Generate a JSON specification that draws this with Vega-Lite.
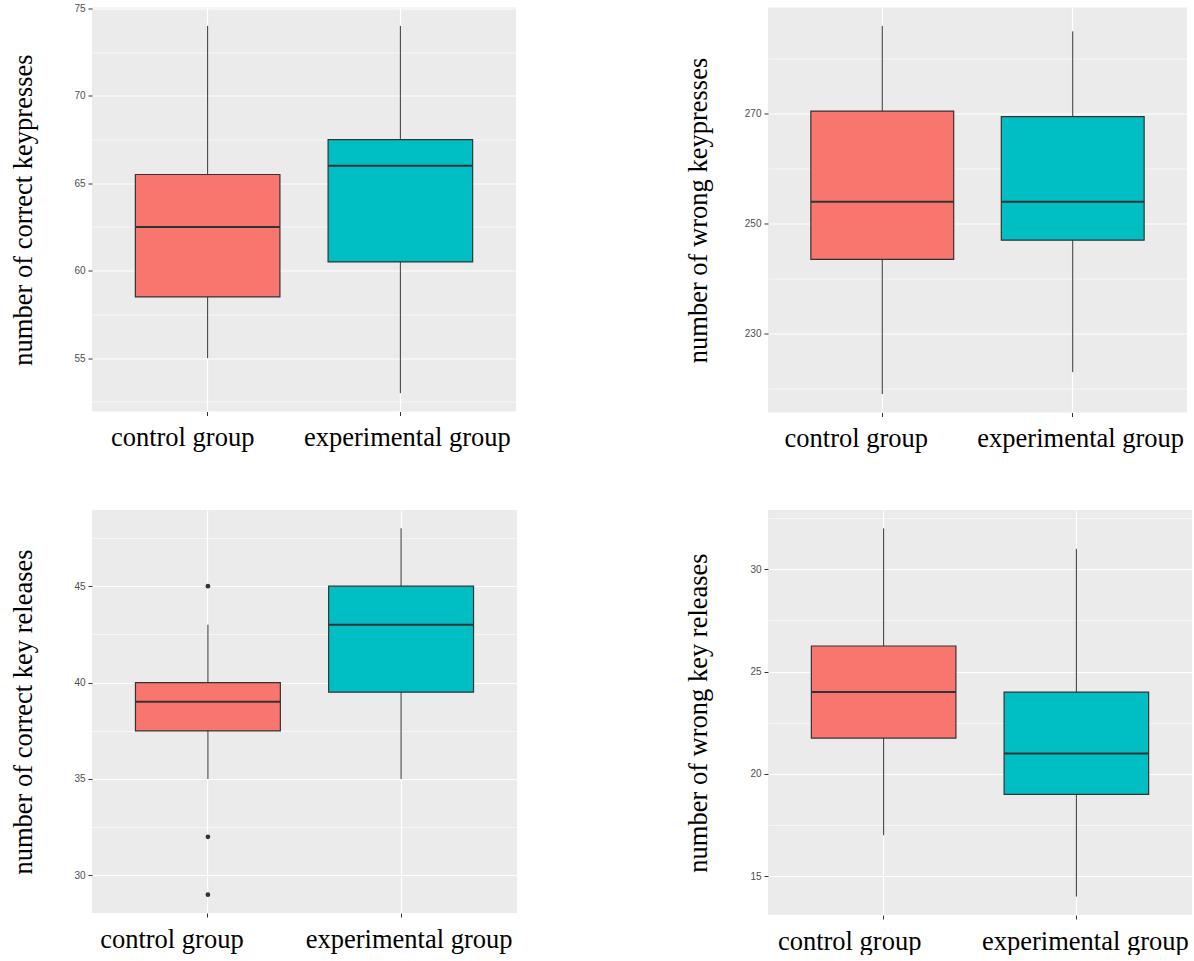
{
  "$schema": "https://vega.github.io/schema/vega-lite/v6.json",
  "padding": {"left": 10, "top": 2.5, "right": 0, "bottom": 0},
  "background": "white",
  "datasets": {
    "boxes": [
      {"panel": "p1", "group": "control group", "lower": 55, "q1": 58.5, "median": 62.5, "q3": 65.5, "upper": 74},
      {"panel": "p1", "group": "experimental group", "lower": 53, "q1": 60.5, "median": 66, "q3": 67.5, "upper": 74},
      {"panel": "p2", "group": "control group", "lower": 219, "q1": 243.5, "median": 254, "q3": 270.5, "upper": 286},
      {"panel": "p2", "group": "experimental group", "lower": 223, "q1": 247, "median": 254, "q3": 269.5, "upper": 285},
      {"panel": "p3", "group": "control group", "lower": 35, "q1": 37.5, "median": 39, "q3": 40, "upper": 43},
      {"panel": "p3", "group": "experimental group", "lower": 35, "q1": 39.5, "median": 43, "q3": 45, "upper": 48},
      {"panel": "p4", "group": "control group", "lower": 17, "q1": 21.75, "median": 24, "q3": 26.25, "upper": 32},
      {"panel": "p4", "group": "experimental group", "lower": 14, "q1": 19, "median": 21, "q3": 24, "upper": 31}
    ],
    "outliers": [
      {"panel": "p3", "group": "control group", "value": 45},
      {"panel": "p3", "group": "control group", "value": 32},
      {"panel": "p3", "group": "control group", "value": 29}
    ]
  },
  "config": {
    "view": {"fill": "#EBEBEB", "stroke": null},
    "axis": {
      "domain": false,
      "gridColor": "#FFFFFF",
      "tickColor": "#333333",
      "tickSize": 4,
      "tickWidth": 1
    }
  },
  "columns": 2,
  "align": "none",
  "spacing": {"row": 57.5, "column": 168},
  "concat": [
    {
      "width": 424,
      "height": 404,
      "encoding": {
        "x": {
          "field": "group", "type": "nominal",
          "scale": {"type": "band", "paddingInner": 0.25, "paddingOuter": 0.225},
          "axis": {
            "title": null, "labelAngle": 0, "labelFont": "Liberation Serif", "labelFontSize": 26.5,
            "labelColor": "#000000", "labelBaseline": "alphabetic", "labelPadding": 30, "labelLimit": 0,
            "bandPosition": 0.5, "grid": true, "gridWidth": 1.2,
            "labelOffset": {"condition": {"test": "datum.value == 'control group'", "value": -25}, "value": 7}
          }
        }
      },
      "layer": [
        {
          "data": {"name": "boxes"},
          "transform": [{"filter": "datum.panel == 'p1'"}],
          "mark": {"type": "rule", "color": "#333333", "strokeWidth": 1},
          "encoding": {
            "y": {
              "field": "lower", "type": "quantitative", "title": "number of correct keypresses",
              "scale": {"domain": [51.95, 75.05], "nice": false, "zero": false},
              "axis": {
                "values": [52.5, 55, 57.5, 60, 62.5, 65, 67.5, 70, 72.5, 75],
                "labelExpr": "datum.value % 5 == 0 ? datum.label : ''",
                "gridWidth": {"condition": {"test": "datum.value % 5 != 0", "value": 0.6}, "value": 1.2},
                "tickOpacity": {"condition": {"test": "datum.value % 5 != 0", "value": 0}, "value": 1},
                "labelFont": "Liberation Sans", "labelFontSize": 10, "labelColor": "#4D4D4D", "labelPadding": 3,
                "titleFont": "Liberation Serif", "titleFontSize": 26.5, "titleFontWeight": "normal",
                "titleColor": "#000000", "titleBaseline": "alphabetic",
                "minExtent": 30, "maxExtent": 30, "titlePadding": 31
              }
            },
            "y2": {"field": "upper"}
          }
        },
        {
          "data": {"name": "boxes"},
          "transform": [{"filter": "datum.panel == 'p1'"}],
          "mark": {"type": "bar", "stroke": "#333333", "strokeWidth": 1.2},
          "encoding": {
            "y": {"field": "q1", "type": "quantitative", "title": "number of correct keypresses"},
            "y2": {"field": "q3"},
            "fill": {"field": "group", "type": "nominal", "scale": {"domain": ["control group", "experimental group"], "range": ["#F8766D", "#00BFC4"]}, "legend": null}
          }
        },
        {
          "data": {"name": "boxes"},
          "transform": [{"filter": "datum.panel == 'p1'"}],
          "mark": {"type": "tick", "color": "#333333", "thickness": 2, "opacity": 1},
          "encoding": {
            "y": {"field": "median", "type": "quantitative", "title": "number of correct keypresses"}
          }
        }
      ]
    },
    {
      "width": 419,
      "height": 405,
      "encoding": {
        "x": {
          "field": "group", "type": "nominal",
          "scale": {"type": "band", "paddingInner": 0.25, "paddingOuter": 0.225},
          "axis": {
            "title": null, "labelAngle": 0, "labelFont": "Liberation Serif", "labelFontSize": 26.5,
            "labelColor": "#000000", "labelBaseline": "alphabetic", "labelPadding": 30, "labelLimit": 0,
            "bandPosition": 0.5, "grid": true, "gridWidth": 1.2,
            "labelOffset": {"condition": {"test": "datum.value == 'control group'", "value": -26}, "value": 8}
          }
        }
      },
      "layer": [
        {
          "data": {"name": "boxes"},
          "transform": [{"filter": "datum.panel == 'p2'"}],
          "mark": {"type": "rule", "color": "#333333", "strokeWidth": 1},
          "encoding": {
            "y": {
              "field": "lower", "type": "quantitative", "title": "number of wrong keypresses",
              "scale": {"domain": [215.65, 289.35], "nice": false, "zero": false},
              "axis": {
                "values": [220, 230, 240, 250, 260, 270, 280],
                "labelExpr": "datum.value % 20 == 10 ? datum.label : ''",
                "gridWidth": {"condition": {"test": "datum.value % 20 == 0", "value": 0.6}, "value": 1.2},
                "tickOpacity": {"condition": {"test": "datum.value % 20 == 0", "value": 0}, "value": 1},
                "labelFont": "Liberation Sans", "labelFontSize": 10, "labelColor": "#4D4D4D", "labelPadding": 3,
                "titleFont": "Liberation Serif", "titleFontSize": 26.5, "titleFontWeight": "normal",
                "titleColor": "#000000", "titleBaseline": "alphabetic",
                "minExtent": 30, "maxExtent": 30, "titlePadding": 32
              }
            },
            "y2": {"field": "upper"}
          }
        },
        {
          "data": {"name": "boxes"},
          "transform": [{"filter": "datum.panel == 'p2'"}],
          "mark": {"type": "bar", "stroke": "#333333", "strokeWidth": 1.2},
          "encoding": {
            "y": {"field": "q1", "type": "quantitative", "title": "number of wrong keypresses"},
            "y2": {"field": "q3"},
            "fill": {"field": "group", "type": "nominal", "scale": {"domain": ["control group", "experimental group"], "range": ["#F8766D", "#00BFC4"]}, "legend": null}
          }
        },
        {
          "data": {"name": "boxes"},
          "transform": [{"filter": "datum.panel == 'p2'"}],
          "mark": {"type": "tick", "color": "#333333", "thickness": 2, "opacity": 1},
          "encoding": {
            "y": {"field": "median", "type": "quantitative", "title": "number of wrong keypresses"}
          }
        }
      ]
    },
    {
      "width": 425,
      "height": 403,
      "encoding": {
        "x": {
          "field": "group", "type": "nominal",
          "scale": {"type": "band", "paddingInner": 0.25, "paddingOuter": 0.225},
          "axis": {
            "title": null, "labelAngle": 0, "labelFont": "Liberation Serif", "labelFontSize": 26.5,
            "labelColor": "#000000", "labelBaseline": "alphabetic", "labelPadding": 30, "labelLimit": 0,
            "bandPosition": 0.5, "grid": true, "gridWidth": 1.2,
            "labelOffset": {"condition": {"test": "datum.value == 'control group'", "value": -36}, "value": 8}
          }
        }
      },
      "layer": [
        {
          "data": {"name": "boxes"},
          "transform": [{"filter": "datum.panel == 'p3'"}],
          "mark": {"type": "rule", "color": "#333333", "strokeWidth": 1},
          "encoding": {
            "y": {
              "field": "lower", "type": "quantitative", "title": "number of correct key releases",
              "scale": {"domain": [28.05, 48.95], "nice": false, "zero": false},
              "axis": {
                "values": [30, 32.5, 35, 37.5, 40, 42.5, 45, 47.5],
                "labelExpr": "datum.value % 5 == 0 ? datum.label : ''",
                "gridWidth": {"condition": {"test": "datum.value % 5 != 0", "value": 0.6}, "value": 1.2},
                "tickOpacity": {"condition": {"test": "datum.value % 5 != 0", "value": 0}, "value": 1},
                "labelFont": "Liberation Sans", "labelFontSize": 10, "labelColor": "#4D4D4D", "labelPadding": 3,
                "titleFont": "Liberation Serif", "titleFontSize": 26.5, "titleFontWeight": "normal",
                "titleColor": "#000000", "titleBaseline": "alphabetic",
                "minExtent": 30, "maxExtent": 30, "titlePadding": 31
              }
            },
            "y2": {"field": "upper"}
          }
        },
        {
          "data": {"name": "boxes"},
          "transform": [{"filter": "datum.panel == 'p3'"}],
          "mark": {"type": "bar", "stroke": "#333333", "strokeWidth": 1.2},
          "encoding": {
            "y": {"field": "q1", "type": "quantitative", "title": "number of correct key releases"},
            "y2": {"field": "q3"},
            "fill": {"field": "group", "type": "nominal", "scale": {"domain": ["control group", "experimental group"], "range": ["#F8766D", "#00BFC4"]}, "legend": null}
          }
        },
        {
          "data": {"name": "boxes"},
          "transform": [{"filter": "datum.panel == 'p3'"}],
          "mark": {"type": "tick", "color": "#333333", "thickness": 2, "opacity": 1},
          "encoding": {
            "y": {"field": "median", "type": "quantitative", "title": "number of correct key releases"}
          }
        },
        {
          "data": {"name": "outliers"},
          "transform": [{"filter": "datum.panel == 'p3'"}],
          "mark": {"type": "point", "filled": true, "color": "#333333", "size": 22, "opacity": 1},
          "encoding": {
            "y": {"field": "value", "type": "quantitative", "title": "number of correct key releases"}
          }
        }
      ]
    },
    {
      "width": 424,
      "height": 405,
      "encoding": {
        "x": {
          "field": "group", "type": "nominal",
          "scale": {"type": "band", "paddingInner": 0.25, "paddingOuter": 0.225},
          "axis": {
            "title": null, "labelAngle": 0, "labelFont": "Liberation Serif", "labelFontSize": 26.5,
            "labelColor": "#000000", "labelBaseline": "alphabetic", "labelPadding": 30, "labelLimit": 0,
            "bandPosition": 0.5, "grid": true, "gridWidth": 1.2,
            "labelOffset": {"condition": {"test": "datum.value == 'control group'", "value": -34}, "value": 9}
          }
        }
      },
      "layer": [
        {
          "data": {"name": "boxes"},
          "transform": [{"filter": "datum.panel == 'p4'"}],
          "mark": {"type": "rule", "color": "#333333", "strokeWidth": 1},
          "encoding": {
            "y": {
              "field": "lower", "type": "quantitative", "title": "number of wrong key releases",
              "scale": {"domain": [13.1, 32.9], "nice": false, "zero": false},
              "axis": {
                "values": [15, 17.5, 20, 22.5, 25, 27.5, 30, 32.5],
                "labelExpr": "datum.value % 5 == 0 ? datum.label : ''",
                "gridWidth": {"condition": {"test": "datum.value % 5 != 0", "value": 0.6}, "value": 1.2},
                "tickOpacity": {"condition": {"test": "datum.value % 5 != 0", "value": 0}, "value": 1},
                "labelFont": "Liberation Sans", "labelFontSize": 10, "labelColor": "#4D4D4D", "labelPadding": 3,
                "titleFont": "Liberation Serif", "titleFontSize": 26.5, "titleFontWeight": "normal",
                "titleColor": "#000000", "titleBaseline": "alphabetic",
                "minExtent": 30, "maxExtent": 30, "titlePadding": 32
              }
            },
            "y2": {"field": "upper"}
          }
        },
        {
          "data": {"name": "boxes"},
          "transform": [{"filter": "datum.panel == 'p4'"}],
          "mark": {"type": "bar", "stroke": "#333333", "strokeWidth": 1.2},
          "encoding": {
            "y": {"field": "q1", "type": "quantitative", "title": "number of wrong key releases"},
            "y2": {"field": "q3"},
            "fill": {"field": "group", "type": "nominal", "scale": {"domain": ["control group", "experimental group"], "range": ["#F8766D", "#00BFC4"]}, "legend": null}
          }
        },
        {
          "data": {"name": "boxes"},
          "transform": [{"filter": "datum.panel == 'p4'"}],
          "mark": {"type": "tick", "color": "#333333", "thickness": 2, "opacity": 1},
          "encoding": {
            "y": {"field": "median", "type": "quantitative", "title": "number of wrong key releases"}
          }
        }
      ]
    }
  ]
}
